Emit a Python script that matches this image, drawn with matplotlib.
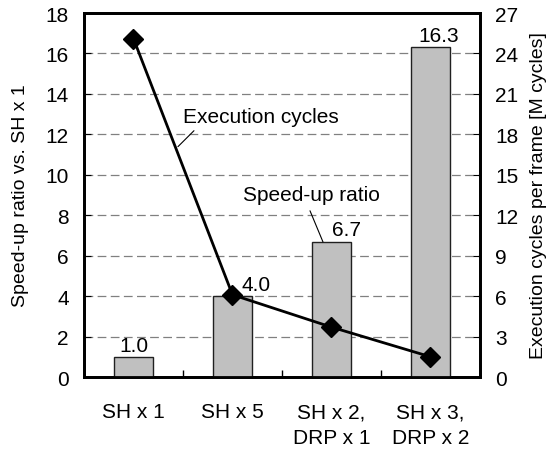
import matplotlib
matplotlib.use("Agg")
import matplotlib.pyplot as plt
import numpy as np

categories = ["SH x 1", "SH x 5", "SH x 2,\nDRP x 1", "SH x 3,\nDRP x 2"]
speedup = [1.0, 4.0, 6.7, 16.3]
speedup_labels = ["1.0", "4.0", "6.7", "16.3"]
cycles = [25.1, 6.1, 3.7, 1.5]
left_ticks = [0, 2, 4, 6, 8, 10, 12, 14, 16, 18]
right_ticks = [0, 3, 6, 9, 12, 15, 18, 21, 24, 27]

plt.rcParams['font.family'] = ['Liberation Sans', 'DejaVu Sans']
FS = 15
LFS = 14

fig = plt.figure(figsize=(5.5, 4.52), dpi=100)
ax = fig.add_axes([0.1527, 0.1637, 0.72, 0.8053])
ax2 = ax.twinx()

x = np.arange(len(categories))
ax.set_xlim(-0.5, 3.5)
ax.set_ylim(0, 18)
ax.set_yticks(left_ticks)
for t in left_ticks[1:-1]:
    ax.axhline(t, color="#808080", linestyle=(0, (7, 3.5)), linewidth=0.9, zorder=1)
ax.bar(x, speedup, width=0.4, color="#c0c0c0", edgecolor="#202020", linewidth=1.0, zorder=3)

# value labels (offsets in points)
label_dx = [0, 17, 11, 6]
for xi, v, t, dx in zip(x, speedup, speedup_labels, label_dx):
    ax.annotate(t, xy=(xi, v), xytext=(dx, 1.5), textcoords="offset points",
                ha="center", va="bottom", fontsize=FS, zorder=6)

ax2.plot(x, cycles, color="black", linewidth=2, marker="D", markersize=10,
         markerfacecolor="black", zorder=5)
ax2.set_ylim(0, 27)
ax2.set_yticks(right_ticks)

ax.set_xticks(x)
ax.set_xticklabels(categories, fontsize=FS, linespacing=1.45)
ax.set_xticks([0.5, 1.5, 2.5], minor=True)
ax.tick_params(axis="x", which="major", length=0, pad=18)
ax.tick_params(axis="x", which="minor", direction="in", length=5, width=1)
ax.tick_params(axis="y", direction="in", length=5, labelsize=FS, pad=11)
ax2.tick_params(axis="y", direction="in", length=5, labelsize=FS, pad=11)

for a in (ax, ax2):
    for s in a.spines.values():
        s.set_linewidth(2)

ax.set_ylabel("Speed-up ratio vs. SH x 1", fontsize=LFS, labelpad=12)
ax2.set_ylabel("Execution cycles per frame [M cycles]", fontsize=LFS, labelpad=8)

# annotations
ax.text(0.5, 12.87, "Execution cycles", fontsize=FS, ha="left", va="center", zorder=6)
ax.annotate("", xy=(0.449, 11.39), xytext=(0.611, 12.18),
            arrowprops=dict(arrowstyle="-", color="black", lw=0.8, shrinkA=0, shrinkB=0))
ax.text(1.106, 9.01, "Speed-up ratio", fontsize=FS, ha="left", va="center", zorder=6)
ax.annotate("", xy=(1.914, 6.68), xytext=(1.783, 8.22),
            arrowprops=dict(arrowstyle="-", color="black", lw=0.8, shrinkA=0, shrinkB=0))

fig.savefig("out.png", dpi=100)
